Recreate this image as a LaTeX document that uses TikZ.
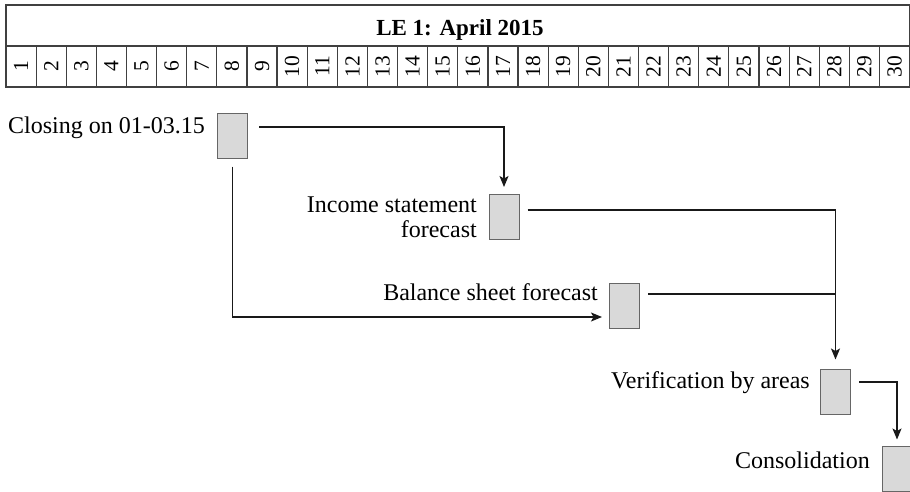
\documentclass[tikz,border=0pt]{standalone}
\usepackage{fontspec}
\setmainfont{Liberation Serif}
\usetikzlibrary{arrows.meta}
\begin{document}
\begin{tikzpicture}[x=1pt,y=-1pt,
  box/.style={draw=black!60, fill=black!15, line width=1pt, minimum width=30pt, minimum height=45pt, inner sep=0pt},
  lab/.style={font=\fontsize{24}{25}\selectfont, inner sep=0pt},
  day/.style={font=\fontsize{21.5}{21.5}\selectfont, rotate=90, inner sep=0pt},
  gridline/.style={draw=black!75, line width=1.2pt},
  conn/.style={draw=black!90, line width=1.2pt},
  arr/.style={conn, -{Stealth[length=11pt,width=9pt,inset=2.5pt]}}
]
\useasboundingbox (0,0) rectangle (910,491);
% calendar header
\draw[gridline] (6,5) rectangle (909.6,87);
\draw[gridline] (6,46) -- (909.6,46);
\foreach \i in {1,...,29} \draw[gridline] ({6+\i*30.12},46) -- ({6+\i*30.12},87);
\node[font=\bfseries\fontsize{23}{23}\selectfont, anchor=base, inner sep=0pt] (title) at (460,35) {LE 1: April 2015};
\foreach \i in {1,...,30} \node[day] (d\i) at ({6+(\i-0.5)*30.12},66.5) {\i};
% boxes
\node[box] (b1) at (232.5,135.5) {};
\node[box] (b2) at (504,217) {};
\node[box] (b3) at (624.5,305.5) {};
\node[box] (b4) at (835.5,391.5) {};
\node[box] (b5) at (897,468.5) {};
% labels
\node[lab, anchor=base east] (l1) at (205,133) {Closing on 01-03.15};
\node[lab, anchor=east, align=right] (l2) at (477,217.5) {Income statement\\forecast};
\node[lab, anchor=base east] (l3) at (598,300) {Balance sheet forecast};
\node[lab, anchor=base east] (l4) at (810,388) {Verification by areas};
\node[lab, anchor=base east] (l5) at (870,468) {Consolidation};
% connectors
\draw[arr] ([xshift=11pt,yshift=8.5pt]b1.east) -| ([yshift=7pt]b2.north);
\draw[arr] ([yshift=-8pt]b1.south) |- ([xshift=-7pt,yshift=-11.5pt]b3.west);
\draw[arr] ([xshift=8pt,yshift=7pt]b2.east) -| ([yshift=9pt]b4.north);
\coordinate (j) at ([xshift=8pt,yshift=11.5pt]b3.east);
\draw[conn] (j) -- (j -| b4.north);
\draw[arr] ([xshift=8pt,yshift=9.5pt]b4.east) -| ([yshift=6pt]b5.north);
\end{tikzpicture}
\end{document}
